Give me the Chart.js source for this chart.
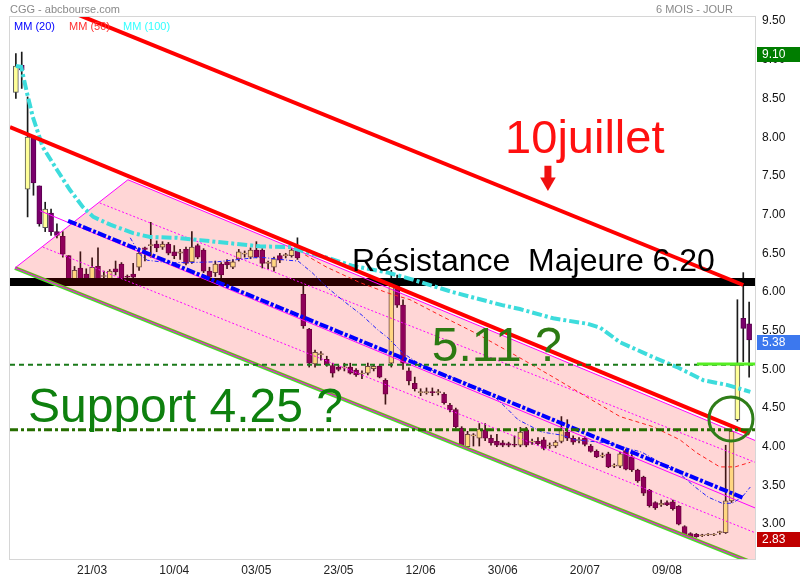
<!DOCTYPE html>
<html>
<head>
<meta charset="utf-8">
<script src="https://cdn.jsdelivr.net/npm/chart.js@4"></script>
<style>
  html, body { margin: 0; padding: 0; background: #fff; }
</style>
</head>
<body>
<canvas id="c" width="800" height="580"></canvas>
<script>
// daily candles, index 0 = first session shown
const opens = [8.58,8.93,7.33,8.00,7.37,6.83,7.02,6.78,6.72,6.47, 6.15,6.31,6.23,6.15,6.33,6.20,6.15,6.30,6.36,6.20,
  6.23,6.32,6.57,6.60,6.62,6.58,6.62,6.52,6.50,6.55, 6.39,6.60,6.54,6.27,6.25,6.36,6.39,6.32,6.43,6.49,
  6.45,6.54,6.54,6.37,6.32,6.47,6.47,6.47,6.54,5.97, 5.52,5.07,5.19,5.13,5.05,5.03,5.02,5.03,4.99,4.94,
  4.95,5.01,5.04,4.86,5.08,6.08,5.83,4.98,4.82,4.70, 4.70,4.71,4.70,4.68,4.54,4.48,4.24,4.00,4.14,4.11,
  4.22,4.11,4.07,4.05,4.04,4.03,4.02,4.22,4.06,4.07, 4.09,4.01,4.01,4.07,4.19,4.11,4.08,4.11,4.01,3.94,
  3.88,3.91,3.75,3.75,3.95,3.87,3.70,3.61,3.44,3.28, 3.25,3.28,3.29,3.23,2.97,2.88,2.87,2.85,2.86,2.86,
  2.89,2.89,3.30,4.35,5.66,5.59];
const highs = [9.08,9.10,8.52,8.00,7.37,7.16,7.07,6.88,6.78,6.47, 6.33,6.52,6.30,6.44,6.57,6.27,6.29,6.40,6.38,6.22,
  6.37,6.57,6.58,6.90,6.66,6.65,6.64,6.60,6.55,6.58, 6.78,6.62,6.56,6.32,6.40,6.38,6.42,6.42,6.55,6.53,
  6.57,6.65,6.56,6.40,6.45,6.50,6.50,6.56,6.70,6.08, 5.53,5.25,5.23,5.17,5.08,5.05,5.08,5.08,5.01,4.98,
  5.08,5.06,5.05,4.88,6.28,6.22,5.90,5.02,4.90,4.75, 4.76,4.76,4.74,4.70,4.56,4.50,4.26,4.20,4.17,4.30,
  4.30,4.15,4.16,4.08,4.06,4.14,4.25,4.25,4.10,4.12, 4.12,4.05,4.08,4.39,4.35,4.14,4.12,4.13,4.03,3.96,
  3.92,3.93,3.78,3.93,3.97,3.90,3.71,3.62,3.45,3.29, 3.31,3.30,3.31,3.24,2.98,2.89,2.88,2.87,2.88,2.88,
  2.91,4.02,4.22,5.90,6.25,5.87];
const lows = [8.50,8.63,6.97,7.25,6.85,6.78,6.73,6.70,6.45,6.10, 6.12,6.12,6.12,6.12,6.12,6.12,6.12,6.22,6.12,6.12,
  6.12,6.28,6.40,6.45,6.52,6.55,6.48,6.43,6.42,6.35, 6.37,6.43,6.25,6.12,6.20,6.18,6.30,6.30,6.40,6.45,
  6.43,6.44,6.31,6.30,6.27,6.38,6.44,6.45,6.42,5.53, 5.03,5.03,5.12,5.04,4.90,4.98,4.98,4.94,4.91,4.88,
  4.93,4.98,4.89,4.55,5.03,5.80,5.00,4.80,4.72,4.66, 4.68,4.66,4.67,4.55,4.45,4.24,4.00,3.97,4.01,4.01,
  4.08,4.02,4.00,4.00,4.00,4.00,4.00,4.00,4.03,4.02, 3.96,3.98,3.99,4.05,4.08,4.03,4.05,4.01,3.93,3.86,
  3.86,3.73,3.73,3.73,3.70,3.68,3.54,3.37,3.22,3.19, 3.23,3.24,3.18,2.99,2.84,2.84,2.83,2.84,2.85,2.85,
  2.87,2.88,3.28,4.33,5.10,4.90];
const closes = [8.92,8.87,8.00,7.41,6.88,7.07,6.78,6.73,6.49,6.12, 6.28,6.15,6.15,6.32,6.15,6.21,6.27,6.26,6.15,6.19,
  6.19,6.50,6.55,6.61,6.57,6.62,6.50,6.47,6.52,6.37, 6.58,6.45,6.27,6.19,6.36,6.22,6.35,6.39,6.52,6.49,
  6.54,6.45,6.37,6.38,6.43,6.41,6.48,6.54,6.44,5.56, 5.08,5.22,5.19,5.06,4.95,5.00,5.03,4.95,4.93,4.95,
  5.04,5.04,4.90,4.68,6.08,5.83,5.08,4.85,4.75,4.70, 4.71,4.70,4.70,4.57,4.48,4.26,4.01,4.16,4.14,4.23,
  4.11,4.05,4.02,4.02,4.02,4.02,4.19,4.02,4.07,4.04, 3.98,4.02,4.06,4.22,4.11,4.06,4.09,4.03,3.94,3.87,
  3.89,3.74,3.76,3.91,3.71,3.70,3.56,3.40,3.24,3.21, 3.27,3.25,3.20,3.00,2.85,2.84,2.84,2.85,2.86,2.87,
  2.89,3.30,4.20,5.06,5.53,5.38];

const xTickIdx = [13, 27, 41, 55, 69, 83, 97, 111];
const xTickLabels = ["21/03", "10/04", "03/05", "23/05", "12/06", "30/06", "20/07", "09/08"];
const yTicks = [3.0, 3.5, 4.0, 4.5, 5.0, 5.5, 6.0, 6.5, 7.0, 7.5, 8.0, 8.5, 9.0, 9.5];

// moving averages (index, value)
const mm20X = [19.5,21.2,22.4,25.8,29.2,34.3,41.6,46.4,48.1,50.5,53.2,56.1,59.0,61.7,63.4,66.0,68.6,71.5,77.1,81.7,83.9,85.6,89.7,93.1,95.3,100.9,106.7,112.9,115.8,118.0,120.4,122.1,123.8,125.2];
const mm20Y = [6.70,6.48,6.41,6.38,6.38,6.39,6.45,6.41,6.40,6.25,6.05,5.87,5.70,5.51,5.41,5.21,5.08,4.97,4.82,4.64,4.48,4.35,4.19,4.15,4.09,4.05,3.93,3.67,3.48,3.35,3.27,3.27,3.35,3.48];
const mm50X = [49.3,53.0,58.7,63.3,67.2,72.8,78.6,85.9,91.6,97.4,103.0,108.6,113.2,116.1,120.0,122.6,125.2];
const mm50Y = [6.48,6.32,6.12,5.99,5.90,5.68,5.46,5.15,4.90,4.64,4.39,4.26,4.09,3.92,3.74,3.74,3.80];
const mm100X = [0,0.9,1.9,2.9,4.6,7.0,9.2,11.4,13.2,16.1,20.0,22.9,27.5,31.4,36.5,41.6,46.7,49.3,53.2,57.3,63.4,67.2,74.4,82.9,85.9,91.6,97.4,99.6,103.0,108.6,112.7,117.2,121.2,125.2];
const mm100Y = [8.92,8.91,8.57,8.26,7.87,7.58,7.32,7.10,6.97,6.87,6.76,6.71,6.70,6.67,6.63,6.59,6.58,6.52,6.44,6.34,6.25,6.17,6.00,5.83,5.78,5.66,5.59,5.54,5.35,5.16,5.03,4.86,4.80,4.71];

// drawn trend lines and channel (index, value)
const topTrendX = [-1, 124], topTrendY = [9.94, 6.09];
const chanTopX = [-1, 125.1], chanTopY = [8.13, 4.17];
const chanBotX = [-0.15, 128.6], chanBotY = [6.31, 2.41];
const chanShapeX = [-0.15, 19.1, 128.6, 128.6, -0.15], chanShapeY = [6.31, 7.45, 4.0, 2.41, 6.31];
const chanMidX = [4.1, 126], chanMidY = [7.05, 3.21];
const chanMidBoldX = [8.9, 124], chanMidBoldY = [6.92, 3.34];
const chanUpQX = [14.3, 126], chanUpQY = [7.15, 3.80];
const chanLowQX = [4.6, 126], chanLowQY = [6.58, 2.89];

const resistLevel = 6.13;
const gapLevel = 5.06;
const supportLevel = 4.22;
const breakLevel = 5.07, breakFrom = 116.1;
const circleAt = [121.9, 4.36];
const arrowX = 90.7, arrowShaft = [7.63, 7.46], arrowHead = 7.42;
const badgeValues = [9.10, 5.38, 2.83];
const badgeColors = ["#007d00", "#3c78ee", "#c00000"];

const notesText = [
  { text: "10juillet", at: [83.4, 7.80], size: 47, color: "#ff1010" },
  { text: "Résistance  Majeure 6.20", at: [57.3, 6.27], size: 32, color: "#000" },
  { text: "5.11 ?", at: [70.9, 5.11], size: 48, color: "#2c7a12" },
  { text: "Support 4.25 ?", at: [2.07, 4.32], size: 48, color: "#0e800e" }
];

const FONT = '"Liberation Sans", Arial, sans-serif';
Chart.defaults.font.family = FONT;

const pts = (xs, ys) => xs.map((x, k) => ({ x, y: ys[k] }));
const flat = (v, from = -1, to = 126) => [{ x: from, y: v }, { x: to, y: v }];
const line = (data, color, width, dash, order, extra) => Object.assign({
  type: "line", data, borderColor: color, borderWidth: width, borderDash: dash || [],
  pointRadius: 0, fill: false, tension: 0, clip: 0, order
}, extra || {});

const idx = opens.map((_, i) => i);
const wicks = idx.map(i => ({ x: i, y: [lows[i], highs[i]] }));
const upBodies = idx.filter(i => closes[i] >= opens[i]).map(i => ({ x: i, y: [opens[i], closes[i]] }));
const downBodies = idx.filter(i => closes[i] < opens[i]).map(i => ({ x: i, y: [opens[i], closes[i]] }));

const barBase = { type: "bar", grouped: false, barPercentage: 1, categoryPercentage: 1, borderSkipped: false };

const datasets = [
  line([{ x: arrowX, y: arrowShaft[0] }, { x: arrowX, y: arrowShaft[1] }], "#f01010", 7, [], 15),
  { type: "scatter", data: [{ x: arrowX, y: arrowHead }], pointStyle: "triangle", pointRadius: 9,
    pointRotation: 180, pointBackgroundColor: "#f01010", pointBorderWidth: 0, order: 15 },
  line(flat(breakLevel, breakFrom), "#55ee22", 3, [], 30),
  line(flat(supportLevel), "#266e00", 3, [8, 3, 3, 3], 30),
  line(flat(gapLevel), "#1a7a1a", 2, [5, 4], 30),
  line(pts(topTrendX, topTrendY), "#ff0000", 4, [], 35),
  line(pts(chanTopX, chanTopY), "#ff0000", 4, [], 35),
  line(pts(chanMidBoldX, chanMidBoldY), "#0000ff", 4, [9, 2, 3, 2], 40),
  line(pts(mm100X, mm100Y), "#3ddcdc", 4, [10, 3, 3, 3], 45),
  line(pts(mm50X, mm50Y), "#ff2020", 1, [4, 3], 50),
  line(pts(mm20X, mm20Y), "#2020ff", 1, [4, 2, 1, 2], 50),
  line(pts(chanMidX, chanMidY), "#ff00ff", 1, [], 60),
  line(pts(chanUpQX, chanUpQY), "#ff00ff", 1, [2, 2], 60),
  line(pts(chanLowQX, chanLowQY), "#ff00ff", 1, [2, 2], 60),
  line(pts(chanShapeX, chanShapeY), "#ff00ff", 1, [], 70,
    { fill: "shape", backgroundColor: "rgba(255,0,0,0.16)" }),
  line(pts(chanBotX, chanBotY), "#4cdc28", 4, [], 75),
  line(flat(resistLevel), "#000000", 8, [], 80),
  Object.assign({ data: upBodies, backgroundColor: "#ffff99", borderColor: "#555", borderWidth: 1,
    maxBarThickness: 5, minBarLength: 1, order: 90 }, barBase),
  Object.assign({ data: downBodies, backgroundColor: "#7a006c", borderColor: "#5a0050", borderWidth: 1,
    maxBarThickness: 5, minBarLength: 1, order: 90 }, barBase),
  Object.assign({ data: wicks, backgroundColor: "#1a1a1a", borderWidth: 0,
    maxBarThickness: 1, order: 100 }, barBase)
];

const notes = {
  id: "notes",
  beforeDatasetsDraw(chart) {
    const { ctx, chartArea: a } = chart;
    ctx.save();
    ctx.strokeStyle = "#d6d6d6";
    ctx.lineWidth = 1;
    ctx.strokeRect(a.left - 0.5, a.top - 0.5, a.right - a.left + 1, a.bottom - a.top + 1);
    ctx.restore();
  },
  afterDatasetsDraw(chart) {
    // breakout circle
    const { ctx, scales: { x, y } } = chart;
    ctx.save();
    ctx.strokeStyle = "#2f7d18";
    ctx.lineWidth = 3;
    ctx.beginPath();
    ctx.arc(x.getPixelForValue(circleAt[0]), y.getPixelForValue(circleAt[1]), 22, 0, Math.PI * 2);
    ctx.stroke();
    ctx.restore();
  },
  afterDraw(chart) {
    const { ctx, scales: { x, y } } = chart;
    ctx.save();
    ctx.textBaseline = "alphabetic";

    ctx.font = "11px " + FONT;
    ctx.fillStyle = "#8a8a8a";
    ctx.textAlign = "left";
    ctx.fillText("CGG - abcbourse.com", 10, 13);
    ctx.textAlign = "right";
    ctx.fillText("6 MOIS - JOUR", 733, 13);

    ctx.textAlign = "left";
    ctx.fillStyle = "#0000ff"; ctx.fillText("MM (20)", 14, 30);
    ctx.fillStyle = "#ff3030"; ctx.fillText("MM (50)", 69, 30);
    ctx.fillStyle = "#33ffff"; ctx.fillText("MM (100)", 123, 30);

    notesText.forEach(n => {
      ctx.font = n.size + "px " + FONT;
      ctx.fillStyle = n.color;
      ctx.fillText(n.text, x.getPixelForValue(n.at[0]), y.getPixelForValue(n.at[1]));
    });

    ctx.font = "12px " + FONT;
    ctx.textBaseline = "middle";
    badgeValues.forEach((v, k) => {
      const py = Math.round(y.getPixelForValue(v));
      ctx.fillStyle = badgeColors[k];
      ctx.fillRect(757, py - 5, 43, 15);
      ctx.fillStyle = "#fff";
      ctx.fillText(v.toFixed(2), 762, py + 3);
    });
    ctx.restore();
  }
};

const noPad = s => { s.paddingLeft = 0; s.paddingRight = 0; s.paddingTop = 0; s.paddingBottom = 0; };

new Chart(document.getElementById("c"), {
  type: "bar",
  data: { datasets },
  options: {
    responsive: false,
    animation: false,
    events: [],
    layout: { padding: { top: 17, left: 10, right: 0, bottom: 0 } },
    plugins: { legend: { display: false }, tooltip: { enabled: false } },
    scales: {
      x: {
        type: "linear", min: -1, max: 126, offset: false,
        grid: { display: false, drawTicks: false, offset: false }, border: { display: false },
        afterFit: s => { s.height = 21; noPad(s); },
        afterBuildTicks: s => { s.ticks = xTickIdx.map(v => ({ value: v })); },
        ticks: { autoSkip: false, maxRotation: 0, padding: 4, color: "#222", font: { size: 12 },
          callback: (v, k) => xTickLabels[k] }
      },
      y: {
        position: "right", min: 2.55, max: 9.553,
        grid: { display: false, drawTicks: false }, border: { display: false },
        afterFit: s => { s.width = 45; noPad(s); },
        afterBuildTicks: s => { s.ticks = yTicks.map(v => ({ value: v })); },
        ticks: { padding: 7, color: "#111", font: { size: 12 }, callback: v => v.toFixed(2) }
      }
    }
  },
  plugins: [notes]
});
</script>
</body>
</html>
